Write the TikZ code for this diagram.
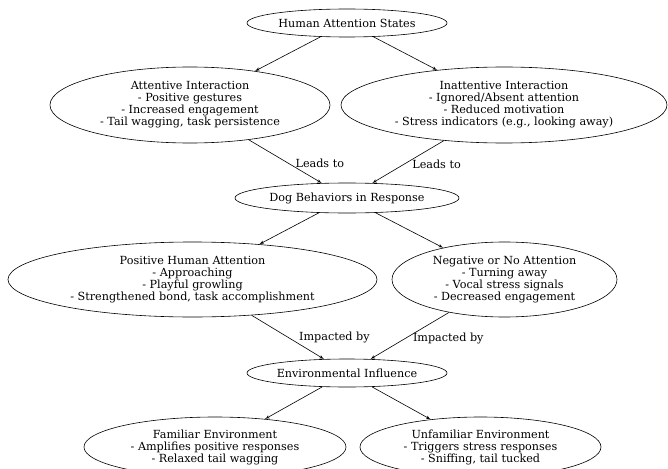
\documentclass[tikz,border=0pt]{standalone}
\usepackage{fontspec}
\setmainfont{DejaVu Serif}
\usepackage{tikz}
\usetikzlibrary{shapes, arrows, positioning, calc}

\begin{document}
\begin{tikzpicture}[auto, node distance=82pt, >=latex']
        \tikzstyle{state} = [draw, ellipse, inner sep=0pt, align=center, line width=0.6pt, font=\fontsize{11.2}{12}\selectfont]
        \tikzstyle{lbl} = [inner sep=1pt, font=\fontsize{11.2}{12}\selectfont]
        \tikzstyle{link} = [->, line width=0.6pt]

        \useasboundingbox (-347pt,23pt) rectangle (321pt,-445pt);

        % --- 人的注意状态 ---
        \node [state, minimum width=200pt, minimum height=28pt] (top) {Human Attention States};
        \node [state, below of=top, xshift=-157pt, minimum width=280pt, minimum height=76pt] (att) {Attentive Interaction\\- Positive gestures\\- Increased engagement\\- Tail wagging, task persistence};
        \node [state, below of=top, xshift=157pt, minimum width=326pt, minimum height=76pt] (inatt) {Inattentive Interaction\\- Ignored/Absent attention\\- Reduced motivation\\- Stress indicators (e.g., looking away)};

        % --- 狗的反应 ---
        \node [state, below of=top, node distance=175pt, minimum width=224pt, minimum height=30pt] (dog) {Dog Behaviors in Response};
        \node [state, below of=dog, node distance=81.5pt, xshift=-154.5pt, minimum width=369pt, minimum height=75pt] (pos) {Positive Human Attention\\- Approaching\\- Playful growling\\- Strengthened bond, task accomplishment};
        \node [state, below of=dog, node distance=81.5pt, xshift=157.5pt, minimum width=225pt, minimum height=75pt] (neg) {Negative or No Attention\\- Turning away\\- Vocal stress signals\\- Decreased engagement};

        % --- 环境 ---
        \node [state, below of=dog, node distance=175pt, minimum width=200pt, minimum height=28pt] (env) {Environmental Influence};
        \node [state, below of=env, node distance=74pt, xshift=-132pt, minimum width=262pt, minimum height=60pt] (fam) {Familiar Environment\\- Amplifies positive responses\\- Relaxed tail wagging};
        \node [state, below of=env, node distance=74pt, xshift=133.5pt, minimum width=241pt, minimum height=60pt] (unfam) {Unfamiliar Environment\\- Triggers stress responses\\- Sniffing, tail tucked};

        % --- 连线 ---
        \draw [link] (top) -- (att);
        \draw [link] (top) -- (inatt);
        \draw [link] (att) -- node[lbl, right=9pt, yshift=-2pt] {Leads to} (dog);
        \draw [link] (inatt) -- node[lbl, right=3pt, yshift=-2pt] {Leads to} (dog);
        \draw [link] (dog) -- (pos);
        \draw [link] (dog) -- (neg);
        \draw [link] (pos) -- node[lbl, right=10pt] {Impacted by} (env);
        \draw [link] (neg) -- node[lbl, right=2pt, yshift=-3pt] {Impacted by} (env);
        \draw [link] (env) -- (fam);
        \draw [link] (env) -- (unfam);

\end{tikzpicture}
\end{document}
